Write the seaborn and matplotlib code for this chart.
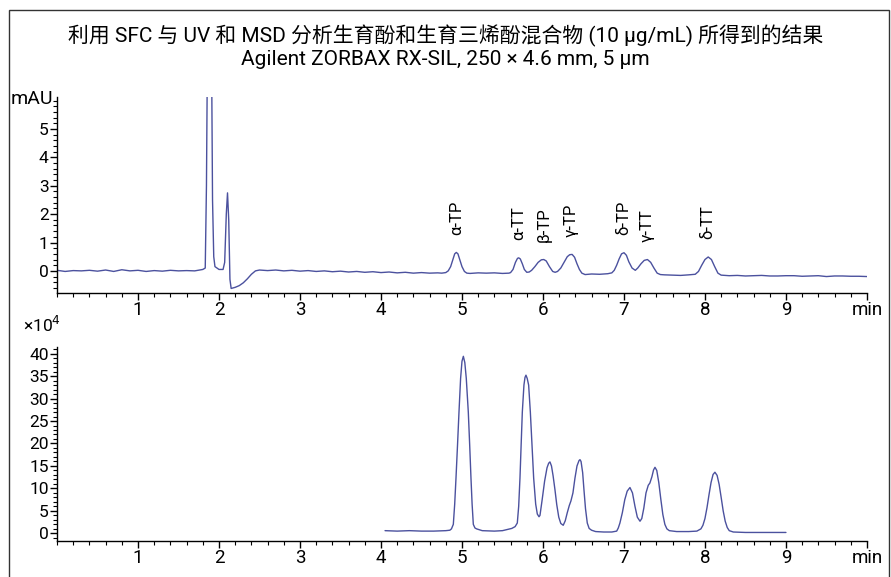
import matplotlib
matplotlib.use("Agg")
import matplotlib.pyplot as plt
from matplotlib.ticker import MultipleLocator, FixedLocator
from matplotlib.patches import Rectangle
import seaborn as sns
import pandas as pd

sns.set_theme(style="white")
plt.rcParams["font.family"] = ["Roboto", "Noto Sans CJK SC", "DejaVu Sans"]

# UV trace (mAU)
uv_time = [0.0, 0.1, 0.2, 0.3, 0.4, 0.5, 0.6, 0.7, 0.8, 0.9, 1.0, 1.1, 1.2, 1.3, 1.4, 1.5, 1.6, 1.7, 1.8,
           1.83, 1.845, 1.86, 1.875, 1.89, 1.905, 1.92, 1.935, 1.95, 2.0, 2.05, 2.07, 2.09, 2.105, 2.12,
           2.135, 2.15, 2.2, 2.25, 2.3, 2.35, 2.4, 2.45, 2.5, 2.6, 2.7, 2.8, 2.9, 3.0, 3.1, 3.2, 3.3, 3.4,
           3.5, 3.6, 3.7, 3.8, 3.9, 4.0, 4.1, 4.2, 4.3, 4.4, 4.5, 4.6, 4.7, 4.75, 4.8, 4.83, 4.86, 4.89,
           4.91, 4.93, 4.95, 4.97, 5.0, 5.03, 5.06, 5.1, 5.2, 5.3, 5.4, 5.5, 5.58, 5.6, 5.63, 5.66, 5.685,
           5.7, 5.72, 5.745, 5.77, 5.8, 5.83, 5.86, 5.9, 5.94, 5.98, 6.01, 6.04, 6.08, 6.12, 6.15, 6.18,
           6.22, 6.26, 6.3, 6.33, 6.36, 6.39, 6.42, 6.45, 6.48, 6.52, 6.6, 6.7, 6.8, 6.85, 6.88, 6.91,
           6.94, 6.97, 7.0, 7.03, 7.06, 7.1, 7.14, 7.17, 7.21, 7.25, 7.29, 7.33, 7.37, 7.41, 7.45, 7.5,
           7.6, 7.7, 7.8, 7.88, 7.92, 7.96, 8.0, 8.04, 8.08, 8.12, 8.16, 8.2, 8.3, 8.4, 8.5, 8.6, 8.7, 8.8,
           8.9, 9.0, 9.1, 9.2, 9.3, 9.4, 9.5, 9.6, 9.7, 9.8, 9.9, 10.0]
uv_signal = [0.02, -0.02, 0.01, 0.0, 0.02, -0.01, 0.03, -0.02, 0.04, 0.0, 0.02, -0.02, 0.01, -0.01, 0.02, 0.0, 0.01, 0.0, 0.05,
             0.1, 3.0, 9.0, 14.0, 14.0, 9.0, 2.5, 0.5, 0.15, 0.05, 0.05, 0.3, 2.0, 2.75, 1.8,
             -0.3, -0.62, -0.58, -0.52, -0.42, -0.28, -0.12, 0.0, 0.03, 0.01, 0.03, 0.0, 0.02, -0.01, 0.01, -0.02, 0.0, -0.03,
             -0.01, -0.04, -0.02, -0.05, -0.03, -0.06, -0.04, -0.07, -0.05, -0.08, -0.06, -0.08, -0.07, -0.08, -0.06, 0.0, 0.15, 0.42,
             0.6, 0.65, 0.6, 0.42, 0.15, -0.02, -0.08, -0.09, -0.07, -0.08, -0.07, -0.09, -0.08, -0.06, 0.05, 0.3, 0.44,
             0.46, 0.42, 0.25, 0.05, -0.05, -0.04, 0.02, 0.15, 0.3, 0.39, 0.4, 0.35, 0.15, -0.02, -0.05, -0.02,
             0.1, 0.3, 0.5, 0.57, 0.58, 0.48, 0.25, 0.05, -0.08, -0.13, -0.11, -0.12, -0.1, -0.07, 0.02, 0.2,
             0.42, 0.6, 0.64, 0.55, 0.32, 0.1, 0.02, 0.1, 0.25, 0.37, 0.4, 0.3, 0.1, -0.08, -0.13, -0.14,
             -0.15, -0.16, -0.14, -0.12, -0.02, 0.2, 0.4, 0.49, 0.4, 0.15, -0.08, -0.15, -0.17, -0.16, -0.18, -0.17, -0.16, -0.18,
             -0.18, -0.17, -0.17, -0.19, -0.18, -0.17, -0.2, -0.18, -0.18, -0.19, -0.19, -0.2]

# MSD trace (x10^4 counts)
ms_time = [4.05, 4.2, 4.35, 4.5, 4.65, 4.8, 4.85, 4.87, 4.893, 4.91, 4.926, 4.945, 4.963, 4.983, 5.0,
           5.017, 5.035, 5.053, 5.078, 5.095, 5.111, 5.125, 5.14, 5.16, 5.18, 5.25, 5.4, 5.5, 5.615,
           5.656, 5.683, 5.70, 5.716, 5.73, 5.745, 5.765, 5.778, 5.79, 5.805, 5.823, 5.844, 5.865, 5.885,
           5.91, 5.93, 5.951, 5.963, 5.99, 6.02, 6.05, 6.07, 6.086, 6.105, 6.125, 6.148, 6.17, 6.195,
           6.22, 6.25, 6.275, 6.30, 6.325, 6.345, 6.37, 6.395, 6.42, 6.445, 6.457, 6.47, 6.49, 6.506,
           6.525, 6.547, 6.57, 6.6, 6.65, 6.75, 6.85, 6.91, 6.93, 6.95, 6.98, 7.01, 7.04, 7.074, 7.105,
           7.136, 7.165, 7.198, 7.22, 7.245, 7.272, 7.3, 7.32, 7.345, 7.365, 7.383, 7.405, 7.43, 7.455,
           7.48, 7.505, 7.53, 7.56, 7.65, 7.8, 7.9, 7.95, 7.975, 8.0, 8.025, 8.05, 8.075, 8.1, 8.123,
           8.15, 8.175, 8.2, 8.225, 8.25, 8.275, 8.3, 8.35, 8.5, 8.7, 9.0]
ms_signal = [0.6, 0.5, 0.6, 0.5, 0.5, 0.6, 0.7, 1.0, 2.0, 6.5, 12.3, 19.7, 27.0, 34.5, 38.3,
             39.4, 38.0, 34.5, 27.0, 19.7, 12.3, 6.5, 2.0, 1.2, 1.0, 0.6, 0.5, 0.6, 1.1,
             1.5, 2.3, 6.0, 12.3, 19.5, 27.0, 33.0, 34.7, 35.2, 34.5, 33.0, 27.0, 19.5, 12.3,
             6.5, 4.3, 3.7, 4.0, 7.5, 11.6, 14.6, 15.6, 15.9, 15.0, 12.8, 9.7, 6.4, 3.6,
             2.2, 1.8, 2.8, 4.6, 6.2, 7.2, 9.0, 12.3, 15.0, 16.2, 16.4, 16.0, 13.5, 9.7,
             5.5, 2.3, 1.1, 0.7, 0.4, 0.3, 0.3, 0.5, 1.2, 2.3, 4.6, 7.5, 9.4, 10.2, 9.0,
             6.0, 3.6, 2.7, 3.3, 5.6, 9.0, 10.7, 11.2, 12.6, 14.1, 14.7, 14.0, 11.3, 7.6,
             4.2, 2.0, 1.0, 0.6, 0.4, 0.4, 0.5, 1.0, 1.8, 3.3, 5.7, 8.6, 11.3, 13.1, 13.6,
             12.9, 10.9, 8.0, 5.0, 2.7, 1.3, 0.6, 0.3, 0.2, 0.2, 0.2]

peak_names = ["α-TP", "α-TT", "β-TP", "γ-TP", "δ-TP", "γ-TT", "δ-TT"]
peak_rt = [4.93, 5.70, 6.01, 6.35, 7.00, 7.29, 8.04]
peak_height = [0.65, 0.46, 0.40, 0.58, 0.64, 0.40, 0.49]

title = ("利用 SFC 与 UV 和 MSD 分析生育酚和生育三烯酚混合物 (10 µg/mL) 所得到的结果\n"
         "Agilent ZORBAX RX-SIL, 250 × 4.6 mm, 5 µm")
x_labels = ["1", "2", "3", "4", "5", "6", "7", "8", "9", "min"]

uv = pd.DataFrame({"time": uv_time, "signal": uv_signal})
ms = pd.DataFrame({"time": ms_time, "signal": ms_signal})

line_color = "#4b519e"

fig = plt.figure(figsize=(8.91, 5.77), dpi=100)
ax1 = fig.add_axes([0.064, 0.4922, 0.909, 0.3397])
ax2 = fig.add_axes([0.064, 0.0624, 0.909, 0.3362])

sns.lineplot(data=uv, x="time", y="signal", ax=ax1, color=line_color, linewidth=1.0)
sns.lineplot(data=ms, x="time", y="signal", ax=ax2, color=line_color, linewidth=1.0)

for ax in (ax1, ax2):
    ax.set_xlim(0, 10)
    ax.xaxis.set_major_locator(FixedLocator(range(1, 11)))
    ax.set_xticklabels(x_labels)
    ax.xaxis.set_minor_locator(MultipleLocator(0.2))
    ax.set_xlabel("")
    ax.set_ylabel("")
    for s in ("top", "right"):
        ax.spines[s].set_visible(False)
    for s in ("left", "bottom"):
        ax.spines[s].set_color("black")
        ax.spines[s].set_linewidth(1.0)
    ax.tick_params(axis="both", which="major", direction="out", length=5, width=1,
                   color="black", bottom=True, left=True)
    ax.tick_params(axis="both", which="minor", direction="out", length=3, width=0.8,
                   color="black", bottom=True, left=True)
    ax.tick_params(axis="x", which="major", labelsize=13.5, pad=1, labelcolor="black")
    ax.tick_params(axis="y", which="major", labelsize=12.5, pad=1, labelcolor="black")
    ax.grid(False)

ax1.set_ylim(-0.78, 6.13)
ax1.yaxis.set_major_locator(FixedLocator([0, 1, 2, 3, 4, 5]))
ax1.yaxis.set_minor_locator(MultipleLocator(0.2))
ax1.text(-0.005, 0.99, "mAU", transform=ax1.transAxes, ha="right", va="center",
         fontsize=14, color="black")

for name, rt, h in zip(peak_names, peak_rt, peak_height):
    ax1.text(rt, h + 0.62, name, rotation=90, ha="center", va="bottom",
             fontsize=12, color="black")

ax2.set_ylim(-1.7, 41.47)
ax2.yaxis.set_major_locator(FixedLocator(range(0, 45, 5)))
ax2.yaxis.set_minor_locator(MultipleLocator(1))
ax2.text(-0.042, 1.115, "×10$^4$", transform=ax2.transAxes, ha="left", va="center",
         fontsize=12.5, color="black")

fig.text(0.5, 0.9185, title, ha="center", va="center", fontsize=15,
         linespacing=1.18, color="black")

fig.patches.append(Rectangle((0.0101, -0.05), 0.9877, 0.0327 + 1.0, transform=fig.transFigure,
                             fill=False, edgecolor="#333333", linewidth=1.0))

fig.savefig("out.png", dpi=100)
